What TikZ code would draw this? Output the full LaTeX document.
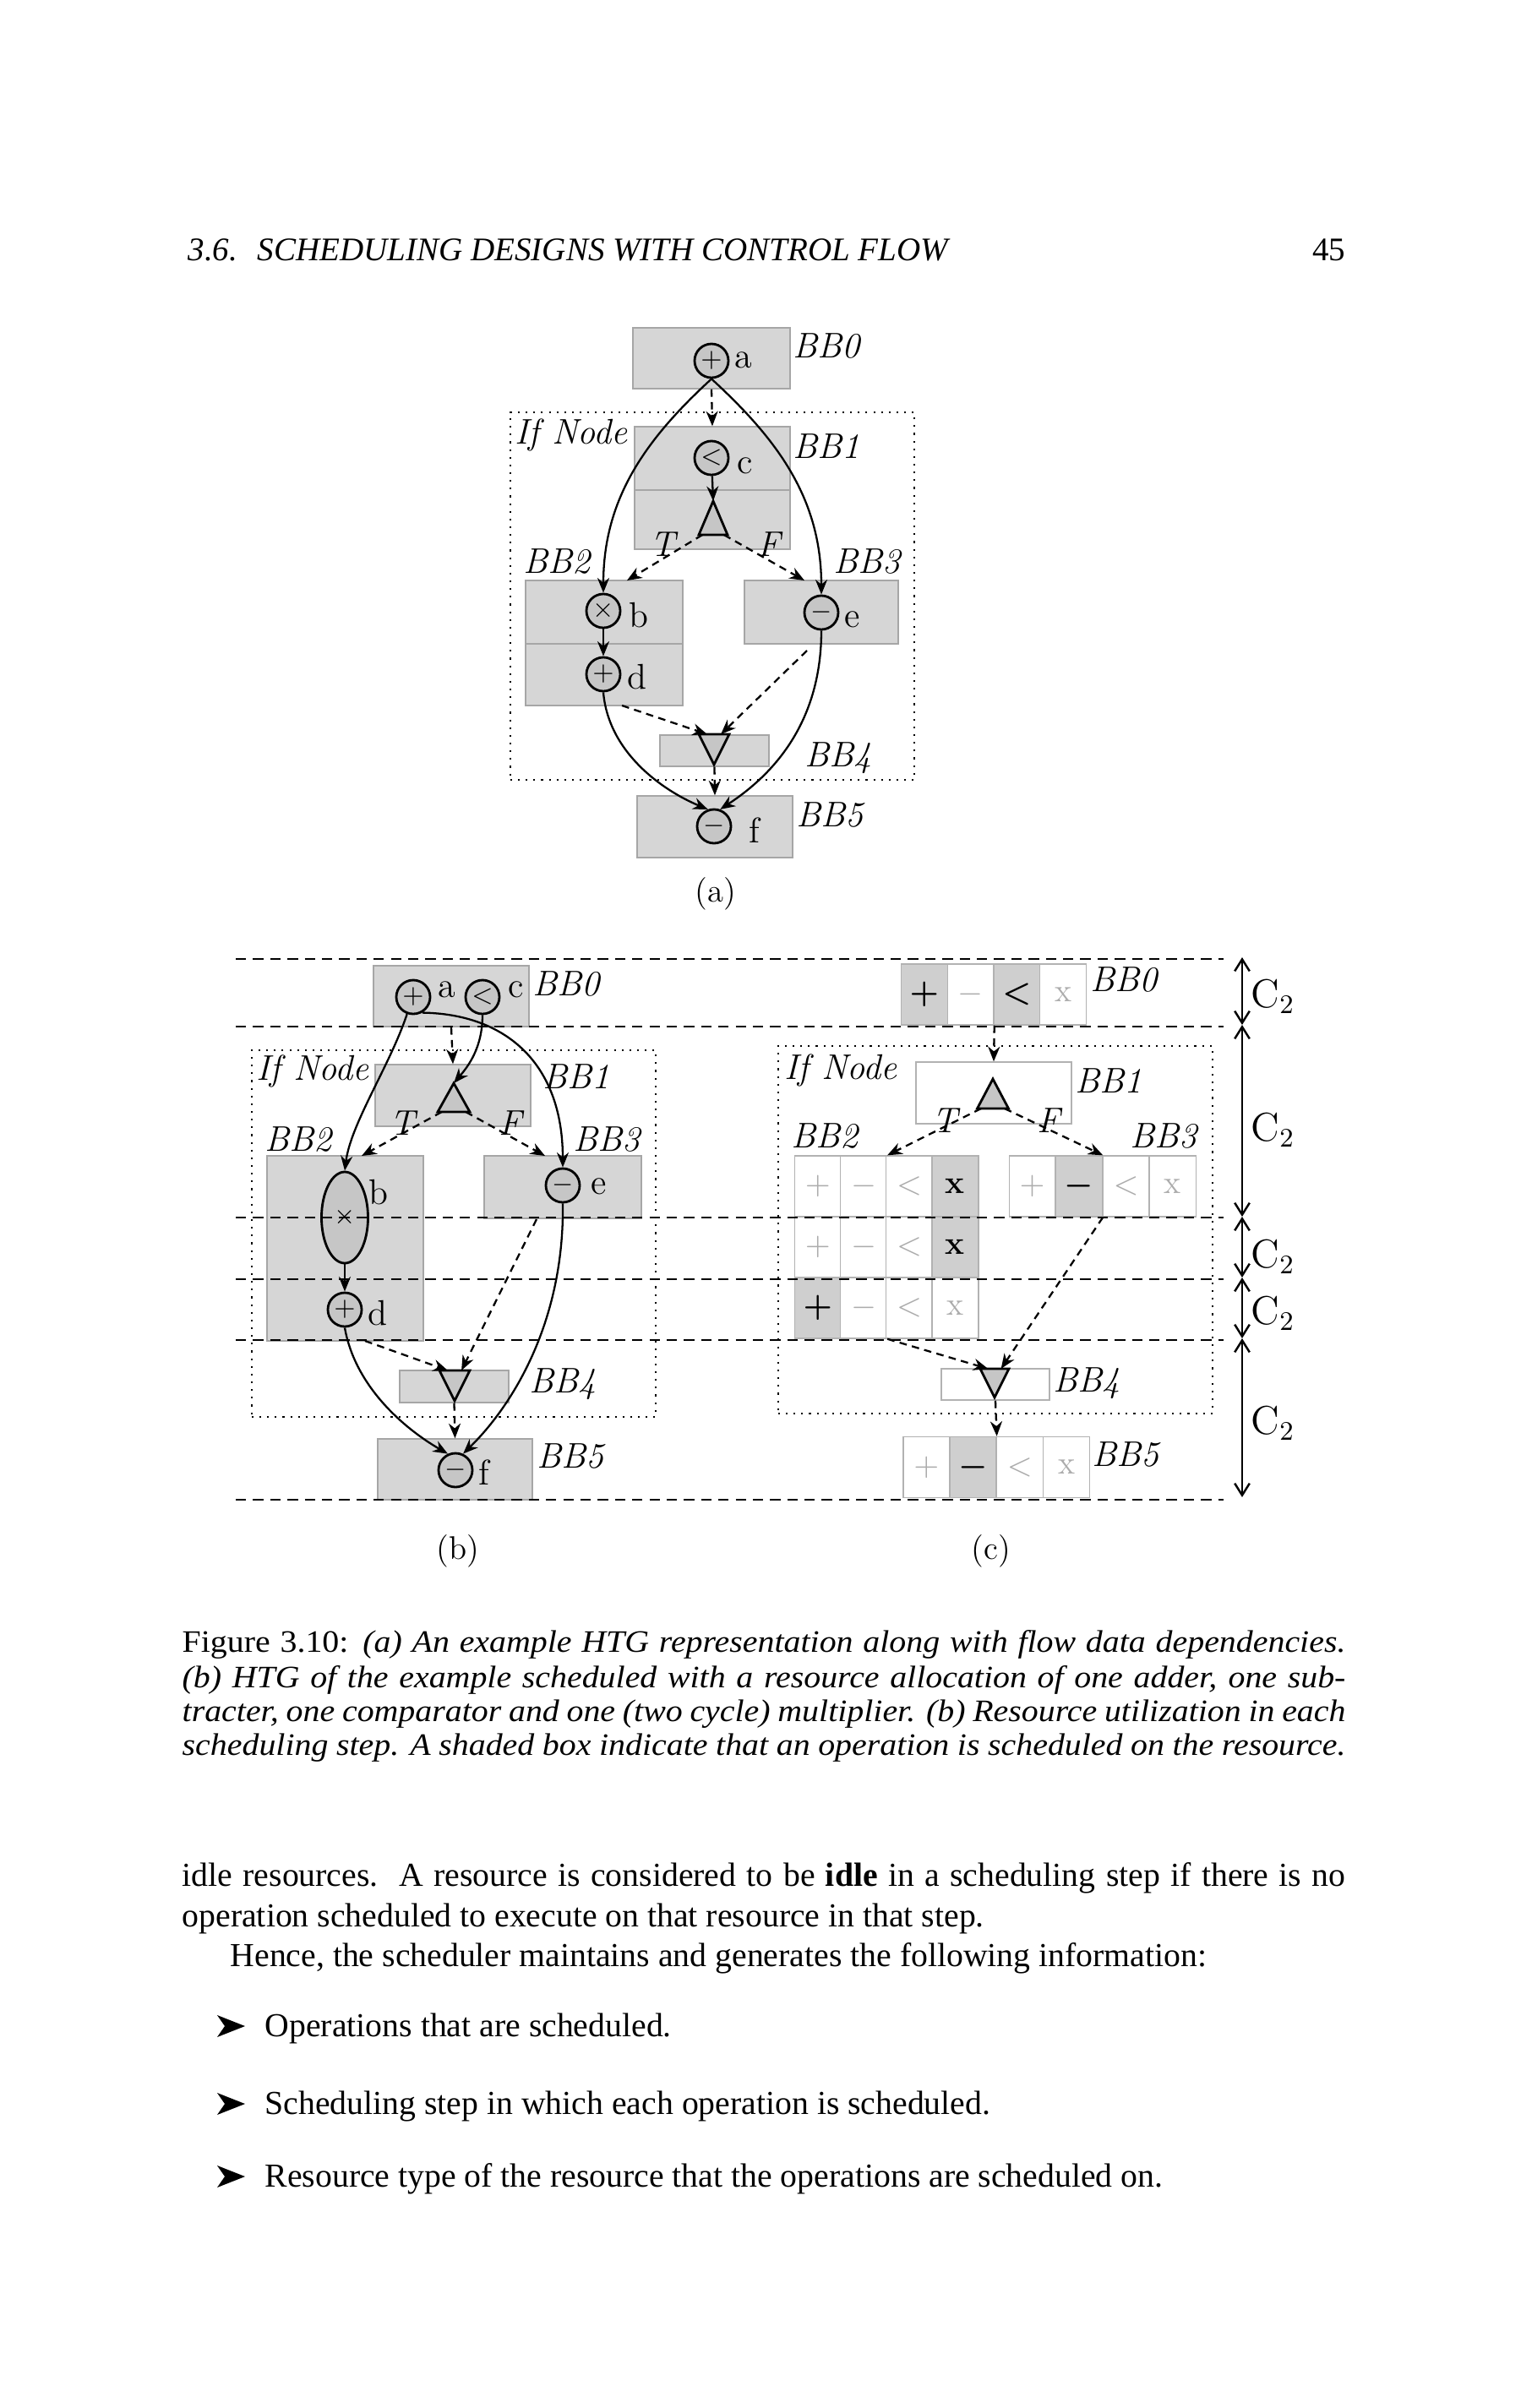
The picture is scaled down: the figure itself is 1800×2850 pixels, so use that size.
\documentclass[tikz,border=0pt]{standalone}
\usepackage{fontspec}
\newfontfamily\tms{Liberation Serif}
\usetikzlibrary{arrows.meta,calc,shapes.geometric}
% #1 name, #2 left x, #3 centre y, #4 cell step, #5 shading flags
\newcommand\cellrowc[5]{%
  \foreach \f [count=\i] in {#5} {%
    \pgfmathsetmacro\cx{#2+(\i-0.5)*#4}%
    \ifnum\f=1
      \node[scell] (#1-\i) at (\cx,#3) {\ifcase\i\or{\boldmath$+$}\or{\boldmath$-$}\or{\boldmath$<$}\or\textbf{x}\fi};
    \else
      \node[wcell] (#1-\i) at (\cx,#3) {\ifcase\i\or$+$\or$-$\or$<$\or x\fi};
    \fi
  }}
\newcommand\capline[1]{\scalebox{1.08}[1]{\makebox[12.74cm][s]{#1}}}
\begin{document}
\begin{tikzpicture}[x=0.01cm,y=-0.01cm,
  bb/.style={draw=gray!70,fill=gray!32,line width=0.4pt,inner sep=0pt},
  wb/.style={draw=gray!60,fill=white,line width=0.4pt,inner sep=0pt},
  scell/.style={draw=gray!60,fill=gray!38,line width=0.4pt,inner sep=0pt,minimum width=0.548cm,minimum height=0.72cm,text=black,font=\fontsize{11}{11}\selectfont\bfseries},
  wcell/.style={draw=gray!60,fill=white,line width=0.4pt,inner sep=0pt,minimum width=0.548cm,minimum height=0.72cm,text=gray!65,font=\fontsize{11}{11}\selectfont},
  op/.style={circle,draw,fill=gray!45,line width=0.8pt,minimum size=0.4cm,inner sep=0pt,font=\fontsize{9}{9}\selectfont},
  lab/.style={anchor=base west,inner sep=0pt,font=\fontsize{12}{12}\selectfont},
  bbl/.style={anchor=base west,inner sep=0pt,font=\fontsize{12}{12}\selectfont\itshape},
  txt/.style={anchor=base west,inner sep=0pt},
  dep/.style={-{Stealth[length=5pt,width=4pt]},line width=0.65pt},
  ctl/.style={-{Stealth[length=5pt,width=4pt]},line width=0.65pt,dash pattern=on 2.5pt off 1.8pt},
  ifbox/.style={draw,dotted,line width=0.6pt,inner sep=0pt},
  sline/.style={line width=0.8pt,dash pattern=on 3.5pt off 2.3pt},
  c2arr/.style={{Straight Barb[length=4pt,width=5pt]}-{Straight Barb[length=4pt,width=5pt]},line width=0.7pt},
  pics/uptri/.style n args={2}{code={
    \draw[fill=gray!45,line width=0.8pt] (0,0) -- (#1,#2) -- (-#1,#2) -- cycle;
    \coordinate (-apex) at (0,0);
    \coordinate (-bl) at ({-0.75*#1},#2);
    \coordinate (-br) at ({0.75*#1},#2);
  }},
  pics/dntri/.style n args={2}{code={
    \draw[fill=gray!45,line width=0.8pt] (-#1,0) -- (#1,0) -- (0,#2) -- cycle;
    \coordinate (-apex) at (0,#2);
    \coordinate (-tl) at ({-0.45*#1},0);
    \coordinate (-tr) at ({0.45*#1},0);
  }}
]
\fill[white] (0,0) rectangle (1800,2850);
\useasboundingbox (0,0) rectangle (1800,2850);

% ---------- header
\node[txt,font=\fontsize{11.1}{13}\tms\itshape] (hdr) at (222,308) {3.6.\hspace{0.6em}SCHEDULING DESIGNS WITH CONTROL FLOW};
\node[anchor=base east,inner sep=0pt,font=\fontsize{11.1}{13}\tms] (pgno) at (1593,308) {45};

% ---------- (a)
\node[bb,minimum width=1.86cm,minimum height=0.72cm] (bb0a) at (842,424) {};
\node[ifbox,minimum width=4.78cm,minimum height=4.35cm] (ifa) at (843,705.5) {};
\node[bb,minimum width=1.84cm,minimum height=0.75cm] (bb1a1) at (843,542.5) {};
\node[bb,minimum width=1.84cm,minimum height=0.70cm] (bb1a2) at (843,615) {};
\node[bb,minimum width=1.86cm,minimum height=0.75cm] (bb2a1) at (715,724.5) {};
\node[bb,minimum width=1.86cm,minimum height=0.73cm] (bb2a2) at (715,798.5) {};
\node[bb,minimum width=1.82cm,minimum height=0.75cm] (bb3a) at (972,724.5) {};
\node[bb,minimum width=1.29cm,minimum height=0.37cm] (bb4a) at (845.5,888.5) {};
\node[bb,minimum width=1.84cm,minimum height=0.73cm] (bb5a) at (846,978.5) {};

\pic (ta) at (844,593) {uptri={17}{40}};
\pic (tb) at (845,869) {dntri={18}{36}};

\node[op] (opa) at (842,427) {$+$};
\node[op] (opc) at (842,542) {$<$};
\node[op] (opb) at (714,723) {$\times$};
\node[op] (opd) at (714,798) {$+$};
\node[op] (ope) at (972,725) {$-$};
\node[op] (opf) at (845,978) {$-$};

\node[lab] (la) at (869,435) {a};
\node[lab] (lc) at (872,560) {c};
\node[lab] (lb) at (744,742) {b};
\node[lab] (ld) at (742,815) {d};
\node[lab] (le) at (999,742) {e};
\node[lab] (lf) at (886,997) {f};

\node[bbl] (nbb0a) at (938,423) {BB0};
\node[bbl] (nbb1a) at (938,542) {BB1};
\node[bbl] (nbb2a) at (619,678) {BB2};
\node[bbl] (nbb3a) at (986,678) {BB3};
\node[bbl] (nbb4a) at (952,907) {BB4};
\node[bbl] (nbb5a) at (942,978) {BB5};
\node[bbl] (nifa) at (609,525) {If Node};
\node[bbl] (nta) at (769,658) {T};
\node[bbl] (nfa) at (896,658) {F};

\coordinate (ina2) at (742,687);
\coordinate (ina3) at (952,687);
\coordinate (outa2) at (736,835);
\coordinate (outa3) at (955,770);
\draw[ctl] (bb0a.south) -- (bb1a1.north);
\draw[dep] (opc) -- (ta-apex);
\draw[ctl] (ta-bl) -- (ina2);
\draw[ctl] (ta-br) -- (ina3);
\draw[dep] (opa.south) .. controls (764,520) and (714,590) .. (opb.north);
\draw[dep] (opa.south) .. controls (920,520) and (972,590) .. (ope.north);
\draw[dep] (opb) -- (opd);
\draw[dep] (opd.south) .. controls (720,890) and (783,935) .. (opf.110);
\draw[dep] (ope.south) .. controls (972,860) and (910,920) .. (opf.70);
\draw[ctl] (outa2) -- (tb-tl);
\draw[ctl] (outa3) -- (tb-tr);
\draw[ctl] (bb4a.south) -- (bb5a.north);
\node[font=\fontsize{11}{11}\selectfont] (capa) at (847,1058) {(a)};

% ---------- (b)
\node[bb,minimum width=1.84cm,minimum height=0.72cm] (bb0b) at (534,1179) {};
\node[ifbox,minimum width=4.78cm,minimum height=4.34cm] (ifb) at (537,1460) {};
\node[bb,minimum width=1.84cm,minimum height=0.73cm] (bb1b) at (536,1296.5) {};
\node[bb,minimum width=1.85cm,minimum height=2.19cm] (bb2b) at (408.5,1477.5) {};
\node[bb,minimum width=1.86cm,minimum height=0.74cm] (bb3b) at (666,1405) {};
\node[bb,minimum width=1.29cm,minimum height=0.38cm] (bb4b) at (537.5,1641) {};
\node[bb,minimum width=1.83cm,minimum height=0.72cm] (bb5b) at (538.5,1739) {};

\pic (tbu) at (537,1282) {uptri={19}{34}};
\pic (tbd) at (538,1622) {dntri={18}{36}};

\node[op] (opab) at (489,1180) {$+$};
\node[op] (opcb) at (571,1180) {$<$};
\node[op,ellipse,minimum width=0.55cm,minimum height=1.08cm] (opbb) at (408,1441) {$\times$};
\node[op] (opdb) at (408,1550) {$+$};
\node[op] (opeb) at (666,1403) {$-$};
\node[op] (opfb) at (539,1740) {$-$};

\node[lab] (lab_) at (518,1180) {a};
\node[lab] (lcb) at (601,1180) {c};
\node[lab] (lbb) at (436,1425) {b};
\node[lab] (ldb) at (435,1568) {d};
\node[lab] (leb) at (699,1413) {e};
\node[lab] (lfb) at (566,1757) {f};

\node[bbl] (nbb0b) at (630,1178) {BB0};
\node[bbl] (nbb1b) at (642,1288) {BB1};
\node[bbl] (nbb2b) at (313,1362) {BB2};
\node[bbl] (nbb3b) at (678,1362) {BB3};
\node[bbl] (nbb4b) at (626,1648) {BB4};
\node[bbl] (nbb5b) at (635,1737) {BB5};
\node[bbl] (nifb) at (303,1278) {If Node};
\node[bbl] (ntb) at (461,1343) {T};
\node[bbl] (nfb) at (590,1343) {F};

\coordinate (inb2) at (428,1368);
\coordinate (inb3) at (645,1368);
\coordinate (outb2) at (432,1587);
\coordinate (outb3) at (635,1443);
\draw[ctl] (bb0b.south) -- (bb1b.north);
\draw[dep] (opcb.south) .. controls (571,1240) and (554,1262) .. (tbu-apex);
\draw[dep] (opab.250) .. controls (462,1260) and (415,1330) .. (opbb.north);
\draw[dep] (opab.300) .. controls (600,1200) and (666,1260) .. (opeb.north);
\draw[ctl] (tbu-bl) -- (inb2);
\draw[ctl] (tbu-br) -- (inb3);
\draw[dep] (opbb.south) -- (opdb.north);
\draw[dep] (opdb.south) .. controls (420,1640) and (477,1690) .. (opfb.115);
\draw[dep] (opeb.south) .. controls (668,1560) and (610,1660) .. (opfb.65);
\draw[ctl] (outb2) -- (tbd-tl);
\draw[ctl] (outb3) -- (tbd-tr);
\draw[ctl] (bb4b.south) -- (bb5b.north);
\node[font=\fontsize{11}{11}\selectfont] (capb) at (542,1836) {(b)};

% ---------- (c)
\node[ifbox,minimum width=5.14cm,minimum height=4.35cm] (ifc) at (1178,1455.5) {};
\cellrowc{bb0c}{1066.5}{1177}{54.75}{1,0,1,0}
\node[wb,minimum width=1.84cm,minimum height=0.73cm] (bb1c) at (1176,1293.5) {};
\cellrowc{bb2ca}{940.7}{1404}{54.2}{0,0,0,1}
\cellrowc{bb2cb}{940.7}{1476}{54.2}{0,0,0,1}
\cellrowc{bb2cc}{940.7}{1548}{54.2}{1,0,0,0}
\cellrowc{bb3c}{1194}{1404}{55.4}{0,1,0,0}
\node[wb,minimum width=1.28cm,minimum height=0.37cm] (bb4c) at (1178,1638.5) {};
\cellrowc{bb5c}{1068.6}{1736.5}{55.3}{0,1,0,0}

\pic (tcu) at (1175,1277) {uptri={18.5}{35}};
\pic (tcd) at (1177,1620) {dntri={17}{34}};

\node[bbl] (nbb0c) at (1290,1173) {BB0};
\node[bbl] (nbb1c) at (1272,1293) {BB1};
\node[bbl] (nbb2c) at (936,1358) {BB2};
\node[bbl] (nbb3c) at (1337,1358) {BB3};
\node[bbl] (nbb4c) at (1246,1647) {BB4};
\node[bbl] (nbb5c) at (1292,1735) {BB5};
\node[bbl] (nifc) at (928,1277) {If Node};
\node[bbl] (ntc) at (1103,1340) {T};
\node[bbl] (nfc) at (1227,1340) {F};

\draw[ctl] (bb0c-2.south east) -- (bb1c.north);
\draw[ctl] (tcu-bl) -- (bb2ca-2.north east);
\draw[ctl] (tcu-br) -- (bb3c-2.north east);
\draw[ctl] (bb2cc-2.south east) -- (tcd-tl);
\draw[ctl] (bb3c-2.south east) -- (tcd-tr);
\draw[ctl] (bb4c.south) -- (bb5c-2.north east);
\node[font=\fontsize{11}{11}\selectfont] (capc) at (1173,1836) {(c)};

% ---------- step separators and C2 arrows
\foreach \yy in {1135,1215,1441,1514,1586,1775}
  \draw[sline] (279,\yy) -- (1448,\yy);
\foreach \ya/\yb in {1133/1213,1213/1440,1440/1512,1512/1584,1584/1772}
  \draw[c2arr] (1470,\ya) -- (1470,\yb);
\foreach \yy [count=\k] in {1192,1350,1500,1567,1697}
  \node[txt,font=\fontsize{13.5}{13.5}\selectfont] (ctwo\k) at (1480,\yy) {C$_2$};

% ---------- caption
\node[txt,font=\fontsize{10.5}{12}\tms] (cap1) at (215,1955) {\capline{Figure 3.10: \textit{(a) An example HTG representation along with flow data dependencies.}}};
\node[txt,font=\fontsize{10.5}{12}\tms\itshape] (cap2) at (215,1997) {\capline{(b) HTG of the example scheduled with a resource allocation of one adder, one sub-}};
\node[txt,font=\fontsize{10.5}{12}\tms\itshape] (cap3) at (215,2037) {\capline{tracter, one comparator and one (two cycle) multiplier. (b) Resource utilization in each}};
\node[txt,font=\fontsize{10.5}{12}\tms\itshape] (cap4) at (215,2077) {\capline{scheduling step. A shaded box indicate that an operation is scheduled on the resource.}};

% ---------- body
\node[txt,font=\fontsize{11.3}{13}\tms] (b1) at (215,2232) {\makebox[13.76cm][s]{idle resources.\ \ A resource is considered to be \textbf{idle} in a scheduling step if there is no}};
\node[txt,font=\fontsize{11.3}{13}\tms] (b2) at (215,2280) {operation scheduled to execute on that resource in that step.};
\node[txt,font=\fontsize{11.3}{13}\tms] (b3) at (272,2327) {Hence, the scheduler maintains and generates the following information:};
\foreach \yy in {2398,2490,2576}
  \fill (257,\yy-13) -- (290,\yy) -- (257,\yy+13) -- (266,\yy) -- cycle;
\node[txt,font=\fontsize{11.3}{13}\tms] (i1) at (313,2410) {Operations that are scheduled.};
\node[txt,font=\fontsize{11.3}{13}\tms] (i2) at (313,2502) {Scheduling step in which each operation is scheduled.};
\node[txt,font=\fontsize{11.3}{13}\tms] (i3) at (313,2588) {Resource type of the resource that the operations are scheduled on.};
\end{tikzpicture}
\end{document}
